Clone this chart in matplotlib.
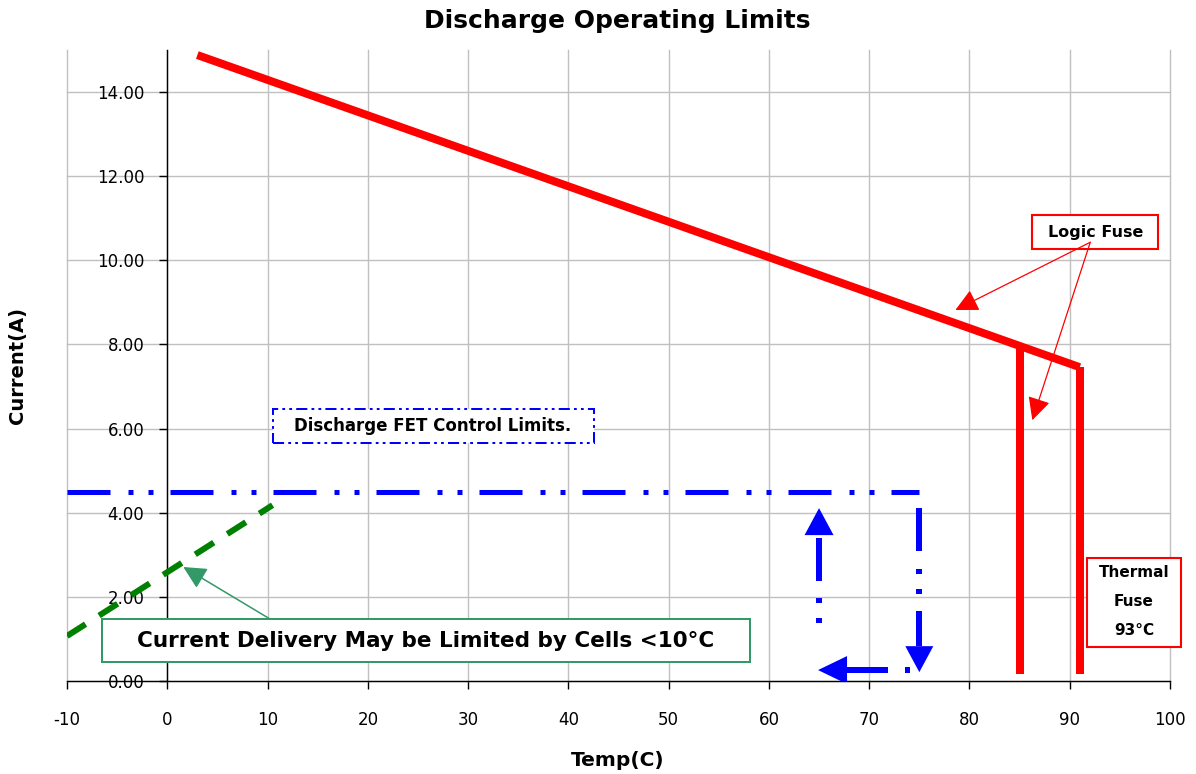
import matplotlib
matplotlib.use('Agg')
import matplotlib.pyplot as plt
import numpy as np
from matplotlib.patches import Polygon, Rectangle

plt.rcParams['lines.scale_dashes'] = False
plt.rcParams['font.family'] = ['DejaVu Sans']

# ---------------- data ----------------
logic_temp = [3, 91]
logic_current = [14.88, 7.46]
fuse_temp = [85, 91]
fuse_top = [8.0, 7.46]
fuse_bottom = [0.17, 0.17]
fet_temp = [-10, 75]
fet_current = [4.5, 4.5]
cell_temp = [-10, 10.5]
cell_current = [1.07, 4.18]
arrow_down = [(75, 4.5), (75, 0.21)]
arrow_left = [(74.1, 0.26), (64.9, 0.26)]
arrow_up = [(65, 1.02), (65, 4.11)]

xticks = list(range(-10, 101, 10))
yticks = [0, 2, 4, 6, 8, 10, 12, 14]

PT = 0.72  # points per pixel at dpi 100
RED = '#ff0000'
BLUE = '#0000ff'
GREEN = '#008000'
SEA = '#339966'

fig = plt.figure(figsize=(11.96, 7.74), dpi=100)
ax = fig.add_axes([67 / 1196, 1 - 681 / 774, 1103 / 1196, 631 / 774])
ax.set_xlim(-10, 100)
ax.set_ylim(0, 15)

# axes styling
for s in ['top', 'right']:
    ax.spines[s].set_visible(False)
ax.spines['left'].set_position(('data', 0))
ax.spines['left'].set_linewidth(1.0)
ax.spines['bottom'].set_linewidth(1.0)
ax.set_xticks(xticks)
ax.set_yticks(yticks)
ax.set_xticklabels([str(t) for t in xticks])
ax.set_yticklabels([f'{t:.2f}' for t in yticks])
ax.tick_params(axis='x', direction='out', length=8 * PT, width=1, pad=22 * PT, labelsize=12)
ax.tick_params(axis='y', direction='out', length=8 * PT, width=1, pad=15 * PT, labelsize=12)
ax.grid(True, color='#c0c0c0', linewidth=1.0)
ax.set_axisbelow(True)
for gl in ax.get_xgridlines() + ax.get_ygridlines():
    gl.set_clip_on(False)

blue_dash = [43 * PT, 18 * PT, 5 * PT, 15 * PT, 5 * PT, 17 * PT]

# ---------------- lines ----------------
ax.plot(logic_temp, logic_current, color=RED, lw=8 * PT, solid_capstyle='butt', zorder=5)
for t, top, bot in zip(fuse_temp, fuse_top, fuse_bottom):
    ax.plot([t, t], [top, bot], color=RED, lw=8 * PT, solid_capstyle='butt', zorder=5)

ax.plot(fet_temp, fet_current, color=BLUE, lw=5 * PT, linestyle=(0, blue_dash),
        dash_capstyle='butt', zorder=5)

ax.plot(cell_temp, cell_current, color=GREEN, lw=6 * PT,
        linestyle=(0, (22 * PT, 16 * PT)), dash_capstyle='butt', zorder=5)


def dashed_arrow(start, tip, offset_px, head_len_px, head_w_px):
    T = ax.transData
    inv = T.inverted()
    s = T.transform(start)
    t = T.transform(tip)
    d = t - s
    u = d / np.hypot(*d)
    base = t - u * head_len_px
    n = np.array([-u[1], u[0]])
    b = inv.transform(base)
    ax.plot([start[0], b[0]], [start[1], b[1]], color=BLUE, lw=6 * PT,
            linestyle=(offset_px * PT, blue_dash), dash_capstyle='butt', zorder=6)
    tri = inv.transform([t, base + n * head_w_px / 2, base - n * head_w_px / 2])
    ax.add_patch(Polygon(tri, closed=True, facecolor=BLUE, edgecolor='none', zorder=6))


dashed_arrow(arrow_down[0], arrow_down[1], 87, 26, 28)
dashed_arrow(arrow_left[0], arrow_left[1], 81, 29, 28)
dashed_arrow(arrow_up[0], arrow_up[1], 46, 27, 29)

# ---------------- annotations ----------------
# Logic Fuse
ax.add_patch(Rectangle((86.27, 10.27), 12.57, 0.81, facecolor='white', edgecolor=RED,
                       lw=1.5, zorder=7, clip_on=False))
ax.text(92.55, 10.67, 'Logic Fuse', ha='center', va='center', fontsize=11.5,
        fontweight='bold', zorder=8)
for tip in [(78.6, 8.82), (86.27, 6.20)]:
    ax.annotate('', xy=tip, xytext=(92.05, 10.43),
                arrowprops=dict(arrowstyle='-|>,head_length=14,head_width=7',
                                mutation_scale=1, shrinkA=0, shrinkB=0,
                                color=RED, lw=0.9), zorder=7)

# Thermal fuse
ax.add_patch(Rectangle((91.75, 0.81), 9.37, 2.12, facecolor='white', edgecolor=RED,
                       lw=1.5, zorder=7, clip_on=False))
ax.text(96.4, 2.57, 'Thermal', ha='center', va='center', fontsize=11, fontweight='bold',
        zorder=8, clip_on=False)
ax.text(96.4, 1.88, 'Fuse', ha='center', va='center', fontsize=11, fontweight='bold',
        zorder=8, clip_on=False)
ax.text(96.4, 1.21, '93°C', ha='center', va='center', fontsize=11, fontweight='bold',
        zorder=8, clip_on=False)

# FET control limits
ax.add_patch(Rectangle((10.57, 5.66), 32.0, 0.81, facecolor='white', edgecolor=BLUE,
                       lw=2 * PT, linestyle=(0, (8, 3, 2, 3, 2, 3)), zorder=7))
ax.text(26.5, 6.06, 'Discharge FET Control Limits.', ha='center', va='center',
        fontsize=12, fontweight='bold', zorder=8)

# Cells note
ax.add_patch(Rectangle((-6.48, 0.45), 64.6, 1.02, facecolor='white', edgecolor=SEA,
                       lw=2 * PT, zorder=7))
ax.text(25.8, 0.95, 'Current Delivery May be Limited by Cells <10°C', ha='center',
        va='center', fontsize=15.5, fontweight='bold', zorder=8)
ax.annotate('', xy=(1.6, 2.71), xytext=(10.27, 1.47),
            arrowprops=dict(arrowstyle='-|>,head_length=14,head_width=7',
                            mutation_scale=1, shrinkA=0, shrinkB=0,
                            color=SEA, lw=1.1), zorder=7)

# ---------------- titles ----------------
fig.text(617 / 1196, 1 - 21 / 774, 'Discharge Operating Limits', ha='center', va='center',
         fontsize=18, fontweight='bold')
fig.text(18 / 1196, 1 - 366 / 774, 'Current(A)', ha='center', va='center', rotation=90,
         fontsize=14, fontweight='bold')
fig.text(618 / 1196, 1 - 760 / 774, 'Temp(C)', ha='center', va='center',
         fontsize=14.5, fontweight='bold')

fig.savefig('out.png', dpi=100)
